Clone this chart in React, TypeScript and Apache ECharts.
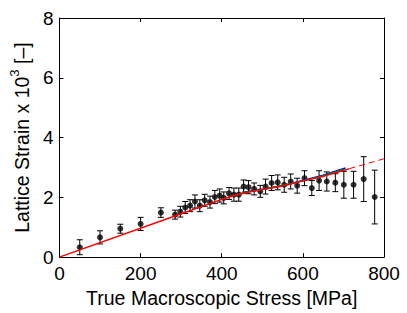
import React, { useEffect, useRef } from "react";
import * as echarts from "echarts";

const stress = [50, 100, 150, 200, 250, 285, 298, 310, 322, 334, 346, 358, 371, 383, 395, 405, 418, 430, 442, 454, 466, 480, 495, 508, 523, 538, 554, 570, 586, 604, 622, 640, 659, 680, 701, 725, 750, 777];
const strain = [0.33, 0.66, 0.95, 1.11, 1.49, 1.42, 1.52, 1.66, 1.72, 1.86, 1.72, 1.9, 1.84, 2.01, 2.06, 1.98, 2.13, 2.09, 2.09, 2.36, 2.34, 2.28, 2.2, 2.36, 2.48, 2.5, 2.42, 2.53, 2.39, 2.64, 2.31, 2.56, 2.53, 2.49, 2.42, 2.42, 2.61, 2.01];
const errors = [0.25, 0.22, 0.15, 0.22, 0.16, 0.15, 0.18, 0.2, 0.2, 0.22, 0.2, 0.2, 0.2, 0.22, 0.22, 0.2, 0.2, 0.22, 0.22, 0.22, 0.22, 0.2, 0.2, 0.25, 0.25, 0.25, 0.25, 0.25, 0.25, 0.25, 0.25, 0.33, 0.32, 0.3, 0.45, 0.45, 0.75, 0.9];

const redX = [0, 300, 400, 430, 470, 500, 550, 600, 650, 700, 715];
const redY = [0, 1.45, 1.93, 2.06, 2.19, 2.26, 2.38, 2.55, 2.7, 2.9, 2.96];
const redDashX = [715, 800];
const redDashY = [2.96, 3.29];
const blueX = [450, 500, 550, 600, 650, 705];
const blueY = [2.16, 2.27, 2.39, 2.56, 2.74, 2.98];
const greenX = [450, 500, 550, 600, 650, 702];
const greenY = [2.15, 2.26, 2.4, 2.55, 2.72, 2.94];

const xTicks = [0, 200, 400, 600, 800];
const yTicks = [0, 2, 4, 6, 8];

const FONT = "Liberation Sans";

export default function App() {
  const ref = useRef<HTMLDivElement>(null);
  useEffect(() => {
    if (!ref.current) return;
    const chart = echarts.init(ref.current, null, { renderer: "svg" });
    const pts = stress.map((x, i) => [x, strain[i]]);
    const errData = stress.map((x, i) => [x, strain[i] - errors[i], strain[i] + errors[i]]);
    const zip = (xs: number[], ys: number[]) => xs.map((x, i) => [x, ys[i]]);
    const axisCommon = {
      axisLine: { show: true, onZero: false, lineStyle: { color: "#000", width: 1 } },
      axisTick: { show: true, inside: true, length: 4, lineStyle: { color: "#000" } },
      splitLine: { show: false },
    };
    chart.setOption({
      animation: false,
      backgroundColor: "#fff",
      grid: { left: 55, right: 23, top: 18, bottom: 53 },
      xAxis: [
        {
          type: "value",
          min: xTicks[0],
          max: xTicks[xTicks.length - 1],
          interval: 200,
          position: "bottom",
          ...axisCommon,
          axisLabel: { color: "#000", fontSize: 19, fontFamily: FONT, margin: 7 },
          name: "True Macroscopic Stress [MPa]",
          nameLocation: "middle",
          nameGap: 28,
          nameTextStyle: { color: "#000", fontSize: 19.5, fontFamily: FONT },
        },
        {
          type: "value",
          min: 0,
          max: 800,
          interval: 200,
          position: "top",
          ...axisCommon,
          axisLabel: { show: false },
        },
      ],
      yAxis: [
        {
          type: "value",
          min: yTicks[0],
          max: yTicks[yTicks.length - 1],
          interval: 2,
          position: "left",
          ...axisCommon,
          axisLabel: { color: "#000", fontSize: 19, fontFamily: FONT, margin: 6 },
          name: "{a|Lattice Strain x 10}{s|3}{a| [–]}",
          nameLocation: "middle",
          nameRotate: 90,
          nameGap: 20,
          nameTextStyle: {
            color: "#000",
            fontFamily: FONT,
            rich: {
              a: { fontSize: 19.5, fontFamily: FONT, color: "#000", lineHeight: 24, verticalAlign: "bottom" },
              s: { fontSize: 13, fontFamily: FONT, color: "#000", lineHeight: 24, verticalAlign: "top" },
            },
          },
        },
        {
          type: "value",
          min: 0,
          max: 8,
          interval: 2,
          position: "right",
          ...axisCommon,
          axisLabel: { show: false },
        },
      ],
      series: [
        {
          type: "custom",
          data: errData,
          z: 3,
          renderItem: (params: any, api: any) => {
            const x = api.value(0);
            const lo = api.coord([x, api.value(1)]);
            const hi = api.coord([x, api.value(2)]);
            const w = 3;
            const style = { stroke: "#000", lineWidth: 1 };
            return {
              type: "group",
              children: [
                { type: "line", shape: { x1: lo[0], y1: lo[1], x2: hi[0], y2: hi[1] }, style },
                { type: "line", shape: { x1: lo[0] - w, y1: lo[1], x2: lo[0] + w, y2: lo[1] }, style },
                { type: "line", shape: { x1: hi[0] - w, y1: hi[1], x2: hi[0] + w, y2: hi[1] }, style },
              ],
            };
          },
        },
        {
          type: "scatter",
          data: pts,
          symbol: "circle",
          symbolSize: 6,
          itemStyle: { color: "#000" },
          z: 4,
        },
        {
          type: "line",
          data: zip(blueX, blueY),
          showSymbol: false,
          lineStyle: { color: "#0000ff", width: 1.5 },
          z: 5,
        },
        {
          type: "line",
          data: zip(greenX, greenY),
          showSymbol: false,
          lineStyle: { color: "#008000", width: 1.5 },
          z: 5,
        },
        {
          type: "line",
          data: zip(redX, redY),
          showSymbol: false,
          lineStyle: { color: "#ff0000", width: 1.5 },
          z: 6,
        },
        {
          type: "line",
          data: zip(redDashX, redDashY),
          showSymbol: false,
          lineStyle: { color: "#ff0000", width: 1, type: [6, 4] },
          z: 6,
        },
      ],
    });
    return () => chart.dispose();
  }, []);
  return <div ref={ref} style={{ width: 407, height: 313, position: "absolute", left: 0, top: 0 }} />;
}
